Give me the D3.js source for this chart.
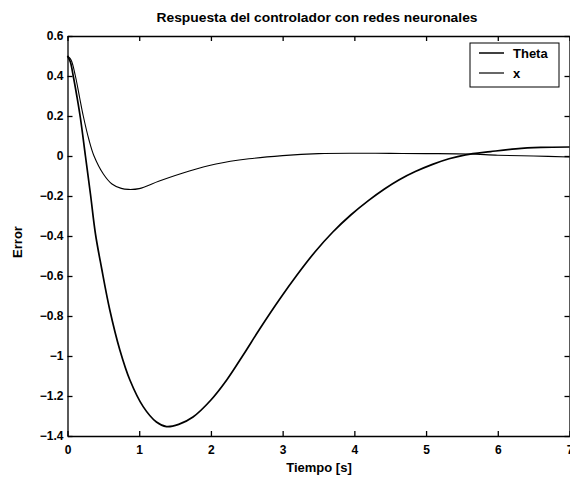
<!DOCTYPE html>
<html>
<head>
<meta charset="utf-8">
<script src="https://cdn.jsdelivr.net/npm/d3@7"></script>
<style>
  html, body { margin: 0; padding: 0; background: #fff; }
  svg { display: block; font-family: "Liberation Sans", Arial, sans-serif; }
  .axis path, .axis line { stroke: #000; stroke-width: 1.3; }
  .axis text { font-size: 12px; font-weight: bold; fill: #000; }
</style>
</head>
<body>
<svg id="chart" width="570" height="477"></svg>
<script>
// Time samples (s) and error responses of the neural-network controller
const timeTheta = [0, 0.04, 0.08, 0.13, 0.18, 0.25, 0.32, 0.39, 0.475, 0.59, 0.73, 0.87, 1.055, 1.24, 1.38,
                   1.55, 1.75, 2.0, 2.22, 2.45, 2.68, 2.96, 3.2, 3.45, 3.7, 3.95, 4.2, 4.42, 4.62,
                   4.85, 5.09, 5.32, 5.55, 5.9, 6.25, 6.6, 7];
const theta = [0.5, 0.47, 0.40, 0.30, 0.19, 0.0, -0.19, -0.39, -0.56, -0.77, -0.97, -1.12, -1.253, -1.33, -1.353,
               -1.342, -1.305, -1.22, -1.12, -0.995, -0.865, -0.715, -0.595, -0.48, -0.38, -0.295, -0.222, -0.165, -0.12,
               -0.078, -0.042, -0.014, 0.006, 0.022, 0.036, 0.043, 0.045];

const timeX = [0, 0.05, 0.11, 0.17, 0.22, 0.3, 0.37, 0.5, 0.62, 0.75, 0.85, 1.0, 1.28, 1.7, 2.07, 2.53,
               3.0, 3.5, 4.0, 4.5, 5.0, 5.6, 6.0, 6.5, 7];
const xErr = [0.5, 0.48, 0.40, 0.29, 0.20, 0.08, 0.0, -0.09, -0.14, -0.162, -0.167, -0.163, -0.125, -0.075, -0.04, -0.014,
              0.002, 0.012, 0.014, 0.013, 0.012, 0.01, 0.004, 0.0, -0.005];

const xTicks = [0, 1, 2, 3, 4, 5, 6, 7];
const yTicks = [0.6, 0.4, 0.2, 0, -0.2, -0.4, -0.6, -0.8, -1, -1.2, -1.4];
const seriesNames = ["Theta", "x"];

const svg = d3.select("#chart");
const plotLeft = 67.5, plotRight = 569.5, plotTop = 36, plotBottom = 436;

const x = d3.scaleLinear().domain([0, 7]).range([plotLeft, plotRight]);
const y = d3.scaleLinear().domain([-1.4, 0.6]).range([plotBottom, plotTop]);

const fmt = d => d3.format("")(d);

// Axes with inward ticks on all four sides
svg.append("g").attr("class", "axis")
  .attr("transform", `translate(0,${plotBottom})`)
  .call(d3.axisBottom(x).tickValues(xTicks).tickFormat(fmt).tickSizeInner(-5).tickSizeOuter(0).tickPadding(9));
svg.append("g").attr("class", "axis")
  .attr("transform", `translate(0,${plotTop})`)
  .call(d3.axisTop(x).tickValues(xTicks).tickFormat("").tickSizeInner(-5).tickSizeOuter(0));
svg.append("g").attr("class", "axis")
  .attr("transform", `translate(${plotLeft},0)`)
  .call(d3.axisLeft(y).tickValues(yTicks).tickFormat(fmt).tickSizeInner(-5).tickSizeOuter(0).tickPadding(4));
svg.append("g").attr("class", "axis")
  .attr("transform", `translate(${plotRight},0)`)
  .call(d3.axisRight(y).tickValues(yTicks).tickFormat("").tickSizeInner(-5).tickSizeOuter(0));

// Curves
const line = d3.line().x(d => x(d[0])).y(d => y(d[1])).curve(d3.curveCatmullRom.alpha(0.5));
svg.append("path")
  .datum(d3.zip(timeTheta, theta))
  .attr("fill", "none").attr("stroke", "#000").attr("stroke-width", 1.7)
  .attr("d", line);
svg.append("path")
  .datum(d3.zip(timeX, xErr))
  .attr("fill", "none").attr("stroke", "#000").attr("stroke-width", 1.1)
  .attr("d", line);

// Legend
const lg = svg.append("g");
lg.append("rect").attr("x", 470).attr("y", 43).attr("width", 89).attr("height", 44)
  .attr("fill", "#fff").attr("stroke", "#000").attr("stroke-width", 1);
seriesNames.forEach((name, i) => {
  const ly = 53 + i * 20;
  lg.append("line").attr("x1", 479).attr("x2", 504).attr("y1", ly).attr("y2", ly)
    .attr("stroke", "#000").attr("stroke-width", i === 0 ? 1.5 : 1.2);
  lg.append("text").attr("x", 513).attr("y", ly + 4.5)
    .attr("font-size", 13).attr("font-weight", "bold").text(name);
});

// Title and axis labels
svg.append("text").attr("x", 317).attr("y", 22).attr("text-anchor", "middle")
  .attr("font-size", 12.5).attr("font-weight", "bold")
  .attr("textLength", 321).attr("lengthAdjust", "spacingAndGlyphs")
  .text("Respuesta del controlador con redes neuronales");
svg.append("text").attr("x", 319).attr("y", 472).attr("text-anchor", "middle")
  .attr("font-size", 13).attr("font-weight", "bold").text("Tiempo [s]");
svg.append("text").attr("transform", "translate(22,242) rotate(-90)").attr("text-anchor", "middle")
  .attr("font-size", 13).attr("font-weight", "bold").text("Error");
</script>
</body>
</html>
